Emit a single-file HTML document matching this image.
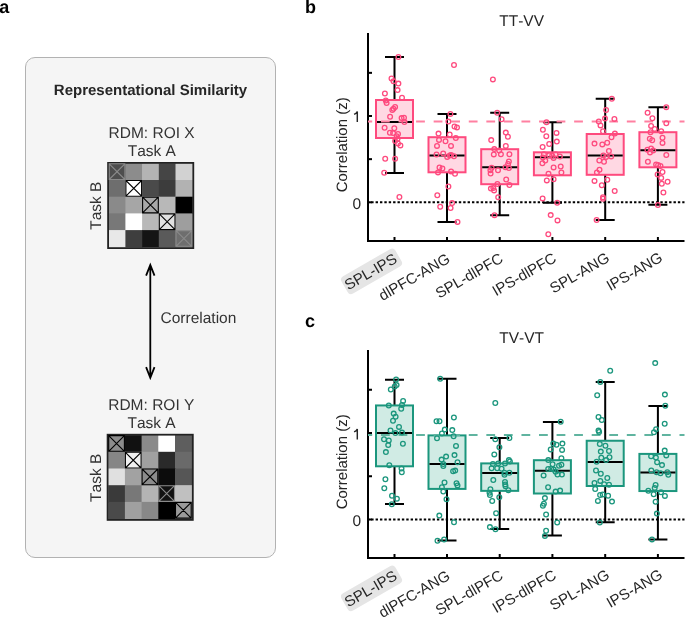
<!DOCTYPE html>
<html><head><meta charset="utf-8"><style>
html,body{margin:0;padding:0;background:#fff;width:685px;height:617px;overflow:hidden}
svg{display:block;will-change:transform;shape-rendering:geometricPrecision}
text{font-family:"Liberation Sans",sans-serif;font-kerning:none;text-rendering:geometricPrecision}
.t{font-size:15.5px;fill:#262626}
.ta{font-size:15.5px;fill:#333}
.ti{font-size:15px;font-weight:bold;fill:#262626}
.pl{font-size:18px;font-weight:bold;fill:#000}
</style></head><body>
<svg width="685" height="617" viewBox="0 0 685 617">
<text x="-0.8" y="12.6" class="pl">a</text>
<rect x="25.5" y="57.5" width="250" height="500" rx="9.5" fill="#f5f5f5" stroke="#b2b2b2" stroke-width="1"/>
<text x="150.5" y="95" text-anchor="middle" class="ti">Representational Similarity</text>
<text x="151.6" y="137.8" text-anchor="middle" class="ta">RDM: ROI X</text>
<text x="151.8" y="155.8" text-anchor="middle" class="ta">Task A</text>
<text transform="translate(100.8 205.7) rotate(-90)" text-anchor="middle" class="ta">Task B</text>
<rect x="108.7" y="163.3" width="17.3" height="17.3" fill="#4e4e4e"/>
<rect x="125.4" y="163.3" width="17.3" height="17.3" fill="#8c8c8c"/>
<rect x="142.1" y="163.3" width="17.3" height="17.3" fill="#b4b4b4"/>
<rect x="158.8" y="163.3" width="17.3" height="17.3" fill="#454545"/>
<rect x="175.5" y="163.3" width="17.3" height="17.3" fill="#d2d2d2"/>
<rect x="108.7" y="180" width="17.3" height="17.3" fill="#6e6e6e"/>
<rect x="125.4" y="180" width="17.3" height="17.3" fill="#ffffff"/>
<rect x="142.1" y="180" width="17.3" height="17.3" fill="#4a4a4a"/>
<rect x="158.8" y="180" width="17.3" height="17.3" fill="#3c3c3c"/>
<rect x="175.5" y="180" width="17.3" height="17.3" fill="#b2b2b2"/>
<rect x="108.7" y="196.7" width="17.3" height="17.3" fill="#8a8a8a"/>
<rect x="125.4" y="196.7" width="17.3" height="17.3" fill="#a6a6a6"/>
<rect x="142.1" y="196.7" width="17.3" height="17.3" fill="#a8a8a8"/>
<rect x="158.8" y="196.7" width="17.3" height="17.3" fill="#b8b8b8"/>
<rect x="175.5" y="196.7" width="17.3" height="17.3" fill="#000000"/>
<rect x="108.7" y="213.4" width="17.3" height="17.3" fill="#787878"/>
<rect x="125.4" y="213.4" width="17.3" height="17.3" fill="#ffffff"/>
<rect x="142.1" y="213.4" width="17.3" height="17.3" fill="#b8b8b8"/>
<rect x="158.8" y="213.4" width="17.3" height="17.3" fill="#e0e0e0"/>
<rect x="175.5" y="213.4" width="17.3" height="17.3" fill="#9e9e9e"/>
<rect x="108.7" y="230.1" width="17.3" height="17.3" fill="#e8e8e8"/>
<rect x="125.4" y="230.1" width="17.3" height="17.3" fill="#3e3e3e"/>
<rect x="142.1" y="230.1" width="17.3" height="17.3" fill="#141414"/>
<rect x="158.8" y="230.1" width="17.3" height="17.3" fill="#5a5a5a"/>
<rect x="175.5" y="230.1" width="17.3" height="17.3" fill="#6e6e6e"/>
<rect x="108.1" y="162.9" width="85.2" height="85.2" fill="none" stroke="#222" stroke-width="1.8"/>
<path d="M109.2 163.8h15.7v15.7h-15.7zM109.2 163.8l15.7 15.7M124.9 163.8l-15.7 15.7" fill="none" stroke="#8a8a8a" stroke-width="1.1"/>
<path d="M125.9 180.5h15.7v15.7h-15.7zM125.9 180.5l15.7 15.7M141.6 180.5l-15.7 15.7" fill="none" stroke="#000" stroke-width="1.1"/>
<path d="M142.6 197.2h15.7v15.7h-15.7zM142.6 197.2l15.7 15.7M158.3 197.2l-15.7 15.7" fill="none" stroke="#000" stroke-width="1.1"/>
<path d="M159.3 213.9h15.7v15.7h-15.7zM159.3 213.9l15.7 15.7M175 213.9l-15.7 15.7" fill="none" stroke="#000" stroke-width="1.1"/>
<path d="M176 230.6h15.7v15.7h-15.7zM176 230.6l15.7 15.7M191.7 230.6l-15.7 15.7" fill="none" stroke="#8a8a8a" stroke-width="1.1"/>
<text x="151.3" y="409.5" text-anchor="middle" class="ta">RDM: ROI Y</text>
<text x="151.6" y="427.7" text-anchor="middle" class="ta">Task A</text>
<text transform="translate(100.8 477.8) rotate(-90)" text-anchor="middle" class="ta">Task B</text>
<rect x="108.2" y="435.1" width="17.3" height="17.3" fill="#8c8c8c"/>
<rect x="124.9" y="435.1" width="17.3" height="17.3" fill="#111111"/>
<rect x="141.6" y="435.1" width="17.3" height="17.3" fill="#8a8a8a"/>
<rect x="158.3" y="435.1" width="17.3" height="17.3" fill="#ffffff"/>
<rect x="175" y="435.1" width="17.3" height="17.3" fill="#5e5e5e"/>
<rect x="108.2" y="451.8" width="17.3" height="17.3" fill="#868686"/>
<rect x="124.9" y="451.8" width="17.3" height="17.3" fill="#f0f0f0"/>
<rect x="141.6" y="451.8" width="17.3" height="17.3" fill="#a0a0a0"/>
<rect x="158.3" y="451.8" width="17.3" height="17.3" fill="#2a2a2a"/>
<rect x="175" y="451.8" width="17.3" height="17.3" fill="#6a6a6a"/>
<rect x="108.2" y="468.5" width="17.3" height="17.3" fill="#e0e0e0"/>
<rect x="124.9" y="468.5" width="17.3" height="17.3" fill="#a2a2a2"/>
<rect x="141.6" y="468.5" width="17.3" height="17.3" fill="#8c8c8c"/>
<rect x="158.3" y="468.5" width="17.3" height="17.3" fill="#0c0c0c"/>
<rect x="175" y="468.5" width="17.3" height="17.3" fill="#565656"/>
<rect x="108.2" y="485.2" width="17.3" height="17.3" fill="#3a3a3a"/>
<rect x="124.9" y="485.2" width="17.3" height="17.3" fill="#787878"/>
<rect x="141.6" y="485.2" width="17.3" height="17.3" fill="#b4b4b4"/>
<rect x="158.3" y="485.2" width="17.3" height="17.3" fill="#111111"/>
<rect x="175" y="485.2" width="17.3" height="17.3" fill="#c0c0c0"/>
<rect x="108.2" y="501.9" width="17.3" height="17.3" fill="#4a4a4a"/>
<rect x="124.9" y="501.9" width="17.3" height="17.3" fill="#a0a0a0"/>
<rect x="141.6" y="501.9" width="17.3" height="17.3" fill="#888888"/>
<rect x="158.3" y="501.9" width="17.3" height="17.3" fill="#000000"/>
<rect x="175" y="501.9" width="17.3" height="17.3" fill="#9a9a9a"/>
<rect x="107.6" y="434.7" width="85.2" height="85.2" fill="none" stroke="#222" stroke-width="1.8"/>
<path d="M108.7 435.6h15.7v15.7h-15.7zM108.7 435.6l15.7 15.7M124.4 435.6l-15.7 15.7" fill="none" stroke="#000" stroke-width="1.1"/>
<path d="M125.4 452.3h15.7v15.7h-15.7zM125.4 452.3l15.7 15.7M141.1 452.3l-15.7 15.7" fill="none" stroke="#000" stroke-width="1.1"/>
<path d="M142.1 469h15.7v15.7h-15.7zM142.1 469l15.7 15.7M157.8 469l-15.7 15.7" fill="none" stroke="#000" stroke-width="1.1"/>
<path d="M158.8 485.7h15.7v15.7h-15.7zM158.8 485.7l15.7 15.7M174.5 485.7l-15.7 15.7" fill="none" stroke="#8a8a8a" stroke-width="1.1"/>
<path d="M175.5 502.4h15.7v15.7h-15.7zM175.5 502.4l15.7 15.7M191.2 502.4l-15.7 15.7" fill="none" stroke="#000" stroke-width="1.1"/>
<path d="M150.3 265V377.5M146.1 275.6L150.3 264.9L154.5 275.6M146.1 367.1L150.3 377.8L154.5 367.1" fill="none" stroke="#000" stroke-width="1.8"/>
<text x="160.5" y="323" class="ta">Correlation</text>
<text x="521.6" y="26" text-anchor="middle" class="t">TT-VV</text>
<text x="305" y="12.9" class="pl">b</text>
<path d="M368 33V242M367 241H684.5" stroke="#000" stroke-width="2" fill="none"/>
<path d="M369 202.3H372" stroke="#000" stroke-width="2"/>
<path d="M369 159.15H372" stroke="#000" stroke-width="2"/>
<path d="M369 116H372" stroke="#000" stroke-width="2"/>
<path d="M369 72.85H372" stroke="#000" stroke-width="2"/>
<text x="361" y="208.7" text-anchor="end" class="t">0</text>
<path d="M354.1 114.4Q356.6 113.2 357.3 111.4V121.9" fill="none" stroke="#262626" stroke-width="1.45"/>
<text transform="translate(346.8 144.8) rotate(-90)" text-anchor="middle" class="t" style="font-size:15px">Correlation (z)</text>
<path d="M394.5 240V237" stroke="#000" stroke-width="2"/>
<path d="M447 240V237" stroke="#000" stroke-width="2"/>
<path d="M499.7 240V237" stroke="#000" stroke-width="2"/>
<path d="M552.4 240V237" stroke="#000" stroke-width="2"/>
<path d="M605.2 240V237" stroke="#000" stroke-width="2"/>
<path d="M657.9 240V237" stroke="#000" stroke-width="2"/>
<path d="M369 202.3H684.5" stroke="#000" stroke-width="2" stroke-dasharray="2.4 1.981" stroke-dashoffset="-2.2"/>
<path d="M394.5 57V100M394.5 138V173M385 57H404M385 173H404" stroke="#000" stroke-width="2" fill="none"/>
<rect x="376" y="100" width="37" height="38" fill="#ffd8e3" stroke="#fe4a7e" stroke-width="2"/>
<path d="M377 122H412" stroke="#000" stroke-width="2"/>
<path d="M447 114V137.2M447 172.3V222M437.5 114H456.5M437.5 222H456.5" stroke="#000" stroke-width="2" fill="none"/>
<rect x="428.5" y="137.2" width="37" height="35.1" fill="#ffd8e3" stroke="#fe4a7e" stroke-width="2"/>
<path d="M429.5 155.5H464.5" stroke="#000" stroke-width="2"/>
<path d="M499.7 112.8V149.2M499.7 184.2V215.2M490.2 112.8H509.2M490.2 215.2H509.2" stroke="#000" stroke-width="2" fill="none"/>
<rect x="481.2" y="149.2" width="37" height="35" fill="#ffd8e3" stroke="#fe4a7e" stroke-width="2"/>
<path d="M482.2 167.3H517.2" stroke="#000" stroke-width="2"/>
<path d="M552.4 122.2V152.3M552.4 175.3V202.8M542.9 122.2H561.9M542.9 202.8H561.9" stroke="#000" stroke-width="2" fill="none"/>
<rect x="533.9" y="152.3" width="37" height="23" fill="#ffd8e3" stroke="#fe4a7e" stroke-width="2"/>
<path d="M534.9 157.2H569.9" stroke="#000" stroke-width="2"/>
<path d="M605.2 98.8V134M605.2 174.8V220M595.7 98.8H614.7M595.7 220H614.7" stroke="#000" stroke-width="2" fill="none"/>
<rect x="586.7" y="134" width="37" height="40.8" fill="#ffd8e3" stroke="#fe4a7e" stroke-width="2"/>
<path d="M587.7 155.6H622.7" stroke="#000" stroke-width="2"/>
<path d="M657.9 107.2V132.2M657.9 167.3V204.7M648.4 107.2H667.4M648.4 204.7H667.4" stroke="#000" stroke-width="2" fill="none"/>
<rect x="639.4" y="132.2" width="37" height="35.1" fill="#ffd8e3" stroke="#fe4a7e" stroke-width="2"/>
<path d="M640.4 150.2H675.4" stroke="#000" stroke-width="2"/>
<path d="M368 121.5H684.5" stroke="#ff80a1" stroke-width="2.1" stroke-dasharray="8.78 8.78" stroke-dashoffset="4.58"/>
<g fill="none" stroke="#fe4a7e" stroke-width="1.3"><circle cx="398.4" cy="57" r="2.35"/><circle cx="391.5" cy="78.4" r="2.35"/><circle cx="393.5" cy="81.3" r="2.35"/><circle cx="398.4" cy="83.6" r="2.35"/><circle cx="397.6" cy="90.1" r="2.35"/><circle cx="384.9" cy="93.5" r="2.35"/><circle cx="402" cy="97.8" r="2.35"/><circle cx="385.8" cy="100.5" r="2.35"/><circle cx="386.6" cy="103.1" r="2.35"/><circle cx="395.1" cy="107" r="2.35"/><circle cx="393.5" cy="108.8" r="2.35"/><circle cx="392.3" cy="110" r="2.35"/><circle cx="390.1" cy="116.7" r="2.35"/><circle cx="401.6" cy="118.1" r="2.35"/><circle cx="404" cy="117.7" r="2.35"/><circle cx="404.4" cy="122.1" r="2.35"/><circle cx="384.6" cy="127.8" r="2.35"/><circle cx="394.3" cy="128.2" r="2.35"/><circle cx="389.9" cy="132.7" r="2.35"/><circle cx="393.1" cy="133.1" r="2.35"/><circle cx="398" cy="133.9" r="2.35"/><circle cx="396.7" cy="136.3" r="2.35"/><circle cx="397.6" cy="138.8" r="2.35"/><circle cx="395.1" cy="141.1" r="2.35"/><circle cx="398" cy="143.5" r="2.35"/><circle cx="400.4" cy="145.4" r="2.35"/><circle cx="385.2" cy="158.7" r="2.35"/><circle cx="395.1" cy="158.7" r="2.35"/><circle cx="384.2" cy="172.8" r="2.35"/><circle cx="399.4" cy="197" r="2.35"/><circle cx="454" cy="65" r="2.35"/><circle cx="450.4" cy="113.9" r="2.35"/><circle cx="448.4" cy="121.6" r="2.35"/><circle cx="454.5" cy="126.5" r="2.35"/><circle cx="457" cy="127.4" r="2.35"/><circle cx="438.5" cy="133.6" r="2.35"/><circle cx="449.7" cy="134.5" r="2.35"/><circle cx="455.8" cy="138.1" r="2.35"/><circle cx="439" cy="139.9" r="2.35"/><circle cx="445.5" cy="141.3" r="2.35"/><circle cx="437" cy="145.9" r="2.35"/><circle cx="451" cy="145.9" r="2.35"/><circle cx="436.5" cy="154.5" r="2.35"/><circle cx="443.2" cy="153.5" r="2.35"/><circle cx="447.2" cy="156.9" r="2.35"/><circle cx="449.7" cy="155.4" r="2.35"/><circle cx="451.1" cy="155" r="2.35"/><circle cx="454" cy="156.2" r="2.35"/><circle cx="439.5" cy="167.5" r="2.35"/><circle cx="442.4" cy="168.5" r="2.35"/><circle cx="438" cy="172.4" r="2.35"/><circle cx="451.1" cy="171.4" r="2.35"/><circle cx="455" cy="173.8" r="2.35"/><circle cx="448.4" cy="186.5" r="2.35"/><circle cx="437.3" cy="195.2" r="2.35"/><circle cx="452.1" cy="203.1" r="2.35"/><circle cx="440.2" cy="206.7" r="2.35"/><circle cx="450.6" cy="208" r="2.35"/><circle cx="457.5" cy="221.9" r="2.35"/><circle cx="492.9" cy="79.4" r="2.35"/><circle cx="497.2" cy="112.8" r="2.35"/><circle cx="501.6" cy="119.3" r="2.35"/><circle cx="505.8" cy="132.6" r="2.35"/><circle cx="507.9" cy="136.7" r="2.35"/><circle cx="491.2" cy="140.1" r="2.35"/><circle cx="505.8" cy="145.9" r="2.35"/><circle cx="494.3" cy="149.1" r="2.35"/><circle cx="499.2" cy="150.5" r="2.35"/><circle cx="493.8" cy="154.4" r="2.35"/><circle cx="500.9" cy="154.2" r="2.35"/><circle cx="509.4" cy="154.2" r="2.35"/><circle cx="508.9" cy="161.5" r="2.35"/><circle cx="508.1" cy="163.9" r="2.35"/><circle cx="505.5" cy="167.3" r="2.35"/><circle cx="508.9" cy="168" r="2.35"/><circle cx="491.6" cy="167.8" r="2.35"/><circle cx="490.4" cy="170.2" r="2.35"/><circle cx="498" cy="170.2" r="2.35"/><circle cx="490.6" cy="173.6" r="2.35"/><circle cx="506.2" cy="179.5" r="2.35"/><circle cx="497.4" cy="184" r="2.35"/><circle cx="509.4" cy="185" r="2.35"/><circle cx="490.9" cy="188.6" r="2.35"/><circle cx="493.3" cy="188.1" r="2.35"/><circle cx="494.1" cy="190.4" r="2.35"/><circle cx="498.2" cy="197.2" r="2.35"/><circle cx="494.5" cy="215.2" r="2.35"/><circle cx="546.5" cy="122.2" r="2.35"/><circle cx="542.9" cy="129.7" r="2.35"/><circle cx="556.5" cy="132.9" r="2.35"/><circle cx="546.3" cy="136.3" r="2.35"/><circle cx="556.8" cy="141.6" r="2.35"/><circle cx="549.2" cy="144" r="2.35"/><circle cx="542.6" cy="147" r="2.35"/><circle cx="543.9" cy="154.3" r="2.35"/><circle cx="549.2" cy="155.2" r="2.35"/><circle cx="552.2" cy="155.7" r="2.35"/><circle cx="555.6" cy="154.3" r="2.35"/><circle cx="559.9" cy="156.5" r="2.35"/><circle cx="542.9" cy="157.5" r="2.35"/><circle cx="553.6" cy="157.9" r="2.35"/><circle cx="545.3" cy="160.6" r="2.35"/><circle cx="542.4" cy="163.3" r="2.35"/><circle cx="553.6" cy="167.4" r="2.35"/><circle cx="560.7" cy="166.5" r="2.35"/><circle cx="548.5" cy="173.8" r="2.35"/><circle cx="561.4" cy="172.5" r="2.35"/><circle cx="546.8" cy="180.4" r="2.35"/><circle cx="553.6" cy="179.3" r="2.35"/><circle cx="542.6" cy="198.4" r="2.35"/><circle cx="557.2" cy="202.8" r="2.35"/><circle cx="550.7" cy="215.1" r="2.35"/><circle cx="557.5" cy="220.4" r="2.35"/><circle cx="548.3" cy="234.2" r="2.35"/><circle cx="611.8" cy="98.8" r="2.35"/><circle cx="606.1" cy="110" r="2.35"/><circle cx="605" cy="118.6" r="2.35"/><circle cx="614.4" cy="118.9" r="2.35"/><circle cx="598.8" cy="121.5" r="2.35"/><circle cx="600.5" cy="125.4" r="2.35"/><circle cx="603" cy="131.2" r="2.35"/><circle cx="614.9" cy="133.6" r="2.35"/><circle cx="611.5" cy="137.2" r="2.35"/><circle cx="594.5" cy="143.6" r="2.35"/><circle cx="602.3" cy="144.4" r="2.35"/><circle cx="607.2" cy="142.7" r="2.35"/><circle cx="608.9" cy="151" r="2.35"/><circle cx="603.4" cy="155.4" r="2.35"/><circle cx="606.1" cy="156.9" r="2.35"/><circle cx="611.2" cy="156.4" r="2.35"/><circle cx="599.3" cy="160.5" r="2.35"/><circle cx="604" cy="161.8" r="2.35"/><circle cx="599.5" cy="169.8" r="2.35"/><circle cx="596.9" cy="172.5" r="2.35"/><circle cx="594.5" cy="180.9" r="2.35"/><circle cx="607.3" cy="179.7" r="2.35"/><circle cx="601.8" cy="185.3" r="2.35"/><circle cx="614.7" cy="191" r="2.35"/><circle cx="603" cy="197.2" r="2.35"/><circle cx="603" cy="198.8" r="2.35"/><circle cx="596.6" cy="220" r="2.35"/><circle cx="666.3" cy="107.2" r="2.35"/><circle cx="647.6" cy="112.8" r="2.35"/><circle cx="652.4" cy="118.3" r="2.35"/><circle cx="666.3" cy="123.2" r="2.35"/><circle cx="651.1" cy="125.9" r="2.35"/><circle cx="654.7" cy="128.9" r="2.35"/><circle cx="650.5" cy="132.2" r="2.35"/><circle cx="661.2" cy="131.2" r="2.35"/><circle cx="662.5" cy="137.8" r="2.35"/><circle cx="649.8" cy="138.8" r="2.35"/><circle cx="652.2" cy="140.2" r="2.35"/><circle cx="662.5" cy="142.9" r="2.35"/><circle cx="647.4" cy="149.8" r="2.35"/><circle cx="651.1" cy="148.5" r="2.35"/><circle cx="653.2" cy="150.4" r="2.35"/><circle cx="650" cy="152.4" r="2.35"/><circle cx="666.3" cy="155" r="2.35"/><circle cx="647.9" cy="161.7" r="2.35"/><circle cx="656.1" cy="164.5" r="2.35"/><circle cx="658.1" cy="165" r="2.35"/><circle cx="660.5" cy="165.9" r="2.35"/><circle cx="662.5" cy="172" r="2.35"/><circle cx="657.6" cy="174.4" r="2.35"/><circle cx="661.2" cy="177.9" r="2.35"/><circle cx="667.6" cy="181.8" r="2.35"/><circle cx="661.8" cy="183.7" r="2.35"/><circle cx="663.4" cy="192.5" r="2.35"/><circle cx="657.9" cy="205" r="2.35"/></g>
<g transform="translate(398.1 261.8) rotate(-30)">
<rect x="-58.9" y="-15" width="62.2" height="20" rx="4" fill="#e5e5e5"/>
<text text-anchor="end" class="t" style="font-size:15px">SPL-IPS</text></g>
<g transform="translate(451.03 261.54) rotate(-30)">
<text text-anchor="end" class="t" style="font-size:15px">dlPFC-ANG</text></g>
<g transform="translate(504.16 261.28) rotate(-30)">
<text text-anchor="end" class="t" style="font-size:15px">SPL-dlPFC</text></g>
<g transform="translate(557.29 261.02) rotate(-30)">
<text text-anchor="end" class="t" style="font-size:15px">IPS-dlPFC</text></g>
<g transform="translate(610.52 260.76) rotate(-30)">
<text text-anchor="end" class="t" style="font-size:15px">SPL-ANG</text></g>
<g transform="translate(663.65 260.5) rotate(-30)">
<text text-anchor="end" class="t" style="font-size:15px">IPS-ANG</text></g>
<text x="521.6" y="343" text-anchor="middle" class="t">TV-VT</text>
<text x="305" y="326.6" class="pl">c</text>
<path d="M368 350V559M367 558H684.5" stroke="#000" stroke-width="2" fill="none"/>
<path d="M369 519.5H372" stroke="#000" stroke-width="2"/>
<path d="M369 476.25H372" stroke="#000" stroke-width="2"/>
<path d="M369 433H372" stroke="#000" stroke-width="2"/>
<path d="M369 389.75H372" stroke="#000" stroke-width="2"/>
<text x="361" y="525.9" text-anchor="end" class="t">0</text>
<path d="M354.1 431.9Q356.6 430.7 357.3 428.9V439.4" fill="none" stroke="#262626" stroke-width="1.45"/>
<text transform="translate(346.8 461.8) rotate(-90)" text-anchor="middle" class="t" style="font-size:15px">Correlation (z)</text>
<path d="M394.5 557V554" stroke="#000" stroke-width="2"/>
<path d="M447 557V554" stroke="#000" stroke-width="2"/>
<path d="M499.7 557V554" stroke="#000" stroke-width="2"/>
<path d="M552.4 557V554" stroke="#000" stroke-width="2"/>
<path d="M605.2 557V554" stroke="#000" stroke-width="2"/>
<path d="M657.9 557V554" stroke="#000" stroke-width="2"/>
<path d="M369 519.5H684.5" stroke="#000" stroke-width="2" stroke-dasharray="2.4 1.981" stroke-dashoffset="-2.2"/>
<path d="M394.5 379.7V405.45M394.5 466.3V504M385 379.7H404M385 504H404" stroke="#000" stroke-width="2" fill="none"/>
<rect x="376" y="405.45" width="37" height="60.85" fill="#d0ebe4" stroke="#1b967d" stroke-width="2"/>
<path d="M377 433H412" stroke="#000" stroke-width="2"/>
<path d="M447 378.8V435.4M447 488.9V540.5M437.5 378.8H456.5M437.5 540.5H456.5" stroke="#000" stroke-width="2" fill="none"/>
<rect x="428.5" y="435.4" width="37" height="53.5" fill="#d0ebe4" stroke="#1b967d" stroke-width="2"/>
<path d="M429.5 464.1H464.5" stroke="#000" stroke-width="2"/>
<path d="M499.7 438.1V463.4M499.7 490.85V529M490.2 438.1H509.2M490.2 529H509.2" stroke="#000" stroke-width="2" fill="none"/>
<rect x="481.2" y="463.4" width="37" height="27.45" fill="#d0ebe4" stroke="#1b967d" stroke-width="2"/>
<path d="M482.2 472.9H517.2" stroke="#000" stroke-width="2"/>
<path d="M552.4 421.9V460.2M552.4 493.5V535.6M542.9 421.9H561.9M542.9 535.6H561.9" stroke="#000" stroke-width="2" fill="none"/>
<rect x="533.9" y="460.2" width="37" height="33.3" fill="#d0ebe4" stroke="#1b967d" stroke-width="2"/>
<path d="M534.9 470.7H569.9" stroke="#000" stroke-width="2"/>
<path d="M605.2 381.9V440.75M605.2 486V522.3M595.7 381.9H614.7M595.7 522.3H614.7" stroke="#000" stroke-width="2" fill="none"/>
<rect x="586.7" y="440.75" width="37" height="45.25" fill="#d0ebe4" stroke="#1b967d" stroke-width="2"/>
<path d="M587.7 462H622.7" stroke="#000" stroke-width="2"/>
<path d="M657.9 405.9V453.9M657.9 491.05V539.4M648.4 405.9H667.4M648.4 539.4H667.4" stroke="#000" stroke-width="2" fill="none"/>
<rect x="639.4" y="453.9" width="37" height="37.15" fill="#d0ebe4" stroke="#1b967d" stroke-width="2"/>
<path d="M640.4 472.4H675.4" stroke="#000" stroke-width="2"/>
<path d="M368 435H684.5" stroke="#60b4a0" stroke-width="2.1" stroke-dasharray="8.78 8.78" stroke-dashoffset="4.58"/>
<g fill="none" stroke="#1b967d" stroke-width="1.3"><circle cx="396.1" cy="379.5" r="2.35"/><circle cx="396.6" cy="385.1" r="2.35"/><circle cx="394.7" cy="386.5" r="2.35"/><circle cx="390.8" cy="389.5" r="2.35"/><circle cx="403.1" cy="400.9" r="2.35"/><circle cx="388.8" cy="405.5" r="2.35"/><circle cx="402" cy="405" r="2.35"/><circle cx="401.2" cy="408.7" r="2.35"/><circle cx="393.7" cy="413.6" r="2.35"/><circle cx="395.6" cy="416.7" r="2.35"/><circle cx="393" cy="420.8" r="2.35"/><circle cx="399" cy="426.9" r="2.35"/><circle cx="390.5" cy="430.5" r="2.35"/><circle cx="395.4" cy="433.1" r="2.35"/><circle cx="402" cy="432.6" r="2.35"/><circle cx="384" cy="439.3" r="2.35"/><circle cx="388.8" cy="440.4" r="2.35"/><circle cx="388.2" cy="445.1" r="2.35"/><circle cx="402.9" cy="443.8" r="2.35"/><circle cx="385.9" cy="452.1" r="2.35"/><circle cx="389.3" cy="465.2" r="2.35"/><circle cx="401.5" cy="468.6" r="2.35"/><circle cx="401.8" cy="472.3" r="2.35"/><circle cx="385.4" cy="479.3" r="2.35"/><circle cx="384.3" cy="488.2" r="2.35"/><circle cx="392" cy="495.8" r="2.35"/><circle cx="396.9" cy="498.7" r="2.35"/><circle cx="391.8" cy="504.2" r="2.35"/><circle cx="440.2" cy="378.8" r="2.35"/><circle cx="453.9" cy="417.5" r="2.35"/><circle cx="436.5" cy="421.2" r="2.35"/><circle cx="439.5" cy="421.2" r="2.35"/><circle cx="444.8" cy="429.6" r="2.35"/><circle cx="452.3" cy="430.1" r="2.35"/><circle cx="441.9" cy="433.5" r="2.35"/><circle cx="437" cy="438.3" r="2.35"/><circle cx="453.6" cy="436.2" r="2.35"/><circle cx="456" cy="445.9" r="2.35"/><circle cx="454.5" cy="455.1" r="2.35"/><circle cx="446.1" cy="456.6" r="2.35"/><circle cx="441.6" cy="459.6" r="2.35"/><circle cx="443.3" cy="464.1" r="2.35"/><circle cx="443.3" cy="466.1" r="2.35"/><circle cx="457.5" cy="462.2" r="2.35"/><circle cx="453.1" cy="471.2" r="2.35"/><circle cx="455.2" cy="470.6" r="2.35"/><circle cx="444.5" cy="482.5" r="2.35"/><circle cx="456.5" cy="483.3" r="2.35"/><circle cx="457.5" cy="485.4" r="2.35"/><circle cx="441.9" cy="487.2" r="2.35"/><circle cx="443.3" cy="491.5" r="2.35"/><circle cx="446.5" cy="499.2" r="2.35"/><circle cx="439.3" cy="515.6" r="2.35"/><circle cx="454" cy="522.2" r="2.35"/><circle cx="437.5" cy="540.8" r="2.35"/><circle cx="444.1" cy="539.5" r="2.35"/><circle cx="495.3" cy="403" r="2.35"/><circle cx="495.3" cy="439.3" r="2.35"/><circle cx="509.4" cy="438" r="2.35"/><circle cx="499.4" cy="447.3" r="2.35"/><circle cx="494.3" cy="454.4" r="2.35"/><circle cx="508.9" cy="460.1" r="2.35"/><circle cx="509.9" cy="461.5" r="2.35"/><circle cx="505" cy="463.5" r="2.35"/><circle cx="498.2" cy="463.5" r="2.35"/><circle cx="492.9" cy="464" r="2.35"/><circle cx="491.6" cy="468.3" r="2.35"/><circle cx="497.2" cy="468.3" r="2.35"/><circle cx="501.6" cy="468.8" r="2.35"/><circle cx="504.5" cy="472.7" r="2.35"/><circle cx="509.4" cy="472.7" r="2.35"/><circle cx="504.5" cy="474.7" r="2.35"/><circle cx="493.3" cy="480" r="2.35"/><circle cx="505" cy="482" r="2.35"/><circle cx="505.2" cy="484.4" r="2.35"/><circle cx="505.5" cy="486.3" r="2.35"/><circle cx="508.4" cy="490.2" r="2.35"/><circle cx="490.4" cy="489.3" r="2.35"/><circle cx="489.5" cy="492.7" r="2.35"/><circle cx="489.9" cy="495.1" r="2.35"/><circle cx="499.3" cy="497.3" r="2.35"/><circle cx="492.2" cy="501" r="2.35"/><circle cx="496.1" cy="513.3" r="2.35"/><circle cx="489.9" cy="527.1" r="2.35"/><circle cx="495.5" cy="529.2" r="2.35"/><circle cx="560.7" cy="421.7" r="2.35"/><circle cx="553.3" cy="443.6" r="2.35"/><circle cx="556.5" cy="444.8" r="2.35"/><circle cx="562.4" cy="443.6" r="2.35"/><circle cx="550.7" cy="449.4" r="2.35"/><circle cx="562.1" cy="449.9" r="2.35"/><circle cx="548.3" cy="460.1" r="2.35"/><circle cx="561.4" cy="458.2" r="2.35"/><circle cx="552.6" cy="464.2" r="2.35"/><circle cx="559" cy="465.7" r="2.35"/><circle cx="561.4" cy="464.7" r="2.35"/><circle cx="548.2" cy="469" r="2.35"/><circle cx="553.6" cy="469.4" r="2.35"/><circle cx="551.2" cy="468.8" r="2.35"/><circle cx="555.6" cy="471.7" r="2.35"/><circle cx="557.5" cy="474.6" r="2.35"/><circle cx="561.9" cy="474.6" r="2.35"/><circle cx="543.6" cy="475.4" r="2.35"/><circle cx="548.1" cy="487.2" r="2.35"/><circle cx="555.6" cy="491.6" r="2.35"/><circle cx="560.1" cy="490.6" r="2.35"/><circle cx="544.9" cy="498.1" r="2.35"/><circle cx="543.9" cy="503.8" r="2.35"/><circle cx="542.9" cy="505.7" r="2.35"/><circle cx="546.1" cy="514.5" r="2.35"/><circle cx="557.2" cy="522.5" r="2.35"/><circle cx="546.1" cy="530.8" r="2.35"/><circle cx="544.9" cy="535.9" r="2.35"/><circle cx="610.2" cy="370.7" r="2.35"/><circle cx="600.3" cy="381.9" r="2.35"/><circle cx="597.2" cy="395.2" r="2.35"/><circle cx="598.5" cy="416.9" r="2.35"/><circle cx="601.8" cy="420" r="2.35"/><circle cx="598.5" cy="430.6" r="2.35"/><circle cx="599.1" cy="431.9" r="2.35"/><circle cx="599.8" cy="444" r="2.35"/><circle cx="605.4" cy="445.8" r="2.35"/><circle cx="600.8" cy="451.6" r="2.35"/><circle cx="609" cy="451" r="2.35"/><circle cx="601.3" cy="457.7" r="2.35"/><circle cx="609.5" cy="457.2" r="2.35"/><circle cx="606.1" cy="460.1" r="2.35"/><circle cx="596.6" cy="461.8" r="2.35"/><circle cx="596" cy="470.5" r="2.35"/><circle cx="600.8" cy="473.8" r="2.35"/><circle cx="607.3" cy="478" r="2.35"/><circle cx="594.5" cy="482.9" r="2.35"/><circle cx="600.3" cy="480.9" r="2.35"/><circle cx="604.2" cy="484.3" r="2.35"/><circle cx="609" cy="484.8" r="2.35"/><circle cx="595.2" cy="489" r="2.35"/><circle cx="600.1" cy="495" r="2.35"/><circle cx="602.7" cy="494.5" r="2.35"/><circle cx="608.1" cy="495.8" r="2.35"/><circle cx="597.9" cy="500.9" r="2.35"/><circle cx="612" cy="501.6" r="2.35"/><circle cx="599.8" cy="522.5" r="2.35"/><circle cx="655.2" cy="363.1" r="2.35"/><circle cx="664.9" cy="394.6" r="2.35"/><circle cx="665.3" cy="405.8" r="2.35"/><circle cx="664.7" cy="423.8" r="2.35"/><circle cx="656.1" cy="429.2" r="2.35"/><circle cx="654" cy="432.3" r="2.35"/><circle cx="664.7" cy="450.6" r="2.35"/><circle cx="666.3" cy="455.4" r="2.35"/><circle cx="651.1" cy="456.2" r="2.35"/><circle cx="655.9" cy="457.6" r="2.35"/><circle cx="657.1" cy="462.2" r="2.35"/><circle cx="662" cy="465.1" r="2.35"/><circle cx="651.3" cy="470.4" r="2.35"/><circle cx="656.6" cy="472.2" r="2.35"/><circle cx="660.5" cy="473.3" r="2.35"/><circle cx="667.3" cy="472.2" r="2.35"/><circle cx="668.3" cy="474.8" r="2.35"/><circle cx="655.6" cy="485" r="2.35"/><circle cx="654.7" cy="487.9" r="2.35"/><circle cx="648.3" cy="490.7" r="2.35"/><circle cx="653.7" cy="494.3" r="2.35"/><circle cx="661" cy="492.3" r="2.35"/><circle cx="664.9" cy="495.9" r="2.35"/><circle cx="655.6" cy="501.8" r="2.35"/><circle cx="656.9" cy="513.6" r="2.35"/><circle cx="652" cy="539.4" r="2.35"/></g>
<g transform="translate(398.1 578.8) rotate(-30)">
<rect x="-58.9" y="-15" width="62.2" height="20" rx="4" fill="#e5e5e5"/>
<text text-anchor="end" class="t" style="font-size:15px">SPL-IPS</text></g>
<g transform="translate(451.03 578.54) rotate(-30)">
<text text-anchor="end" class="t" style="font-size:15px">dlPFC-ANG</text></g>
<g transform="translate(504.16 578.28) rotate(-30)">
<text text-anchor="end" class="t" style="font-size:15px">SPL-dlPFC</text></g>
<g transform="translate(557.29 578.02) rotate(-30)">
<text text-anchor="end" class="t" style="font-size:15px">IPS-dlPFC</text></g>
<g transform="translate(610.52 577.76) rotate(-30)">
<text text-anchor="end" class="t" style="font-size:15px">SPL-ANG</text></g>
<g transform="translate(663.65 577.5) rotate(-30)">
<text text-anchor="end" class="t" style="font-size:15px">IPS-ANG</text></g>
</svg>
</body></html>
